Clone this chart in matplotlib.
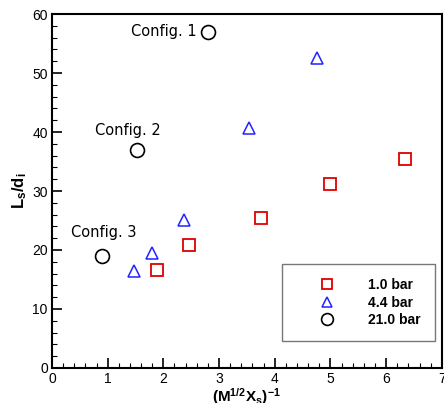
import matplotlib
matplotlib.use("Agg")
import matplotlib.pyplot as plt
from matplotlib.ticker import MultipleLocator

plt.rcParams['font.family'] = ['Liberation Sans', 'DejaVu Sans']
plt.rcParams['mathtext.fontset'] = 'custom'
plt.rcParams['mathtext.rm'] = 'Liberation Sans'
plt.rcParams['mathtext.it'] = 'Liberation Sans:italic'
plt.rcParams['mathtext.bf'] = 'Liberation Sans:bold'
plt.rcParams['mathtext.default'] = 'bf'

# data
x_1bar = [1.88, 2.46, 3.75, 4.99, 6.34]
y_1bar = [16.6, 20.8, 25.4, 31.2, 35.4]
x_4bar = [1.47, 1.80, 2.37, 3.54, 4.76]
y_4bar = [16.4, 19.5, 25.1, 40.7, 52.6]
x_21bar = [0.90, 1.52, 2.80]
y_21bar = [19.0, 37.0, 57.0]
labels = ['1.0 bar', '4.4 bar', '21.0 bar']
config_names = ['Config. 3', 'Config. 2', 'Config. 1']

fig = plt.figure(figsize=(4.44, 4.03), dpi=100)
ax = fig.add_axes([0.117, 0.087, 0.878, 0.878])

ax.plot(x_1bar, y_1bar, 's', ms=8, mfc='none', mec='#dd0000', mew=1.3,
        label=labels[0], ls='none')
ax.plot(x_4bar, y_4bar, '^', ms=8.5, mfc='none', mec='#2222ff', mew=1.1,
        label=labels[1], ls='none')
ax.plot(x_21bar, y_21bar, 'o', ms=10, mfc='none', mec='black', mew=1.2,
        label=labels[2], ls='none')

# where each config label sits relative to its circle (points)
offsets = [(1.5, 17), (-6, 14), (-8, 0)]
aligns = ['center', 'center', 'right']
for xi, yi, name, off, ha in zip(x_21bar, y_21bar, config_names, offsets, aligns):
    ax.annotate(name, (xi, yi), xytext=off, textcoords='offset points',
                ha=ha, va='center', fontsize=10.5, family='DejaVu Sans')

ax.set_xlim(0, 7)
ax.set_ylim(0, 60)
ax.xaxis.set_major_locator(MultipleLocator(1))
ax.xaxis.set_minor_locator(MultipleLocator(0.2))
ax.yaxis.set_major_locator(MultipleLocator(10))
ax.yaxis.set_minor_locator(MultipleLocator(2))
ax.tick_params(which='major', direction='in', length=7, width=1.2, labelsize=10, pad=3)
ax.tick_params(which='minor', direction='in', length=3.5, width=0.8)
for s in ax.spines.values():
    s.set_linewidth(1.5)

ax.set_xlabel(r'$(M^{1/2}X_s)^{-1}$', fontsize=11, labelpad=0)
ax.set_ylabel(r'$L_s/d_i$', fontsize=12, labelpad=2)

leg = ax.legend(loc='lower right', bbox_to_anchor=(0.982, 0.076), fancybox=False,
                edgecolor='#777777', framealpha=1, prop={'weight': 'bold', 'size': 10},
                handletextpad=0.8, borderpad=1.0, labelspacing=0.25,
                borderaxespad=0, handlelength=4.4, markerscale=0.85)
leg.get_frame().set_linewidth(1.0)

fig.savefig('out.png', dpi=100)
